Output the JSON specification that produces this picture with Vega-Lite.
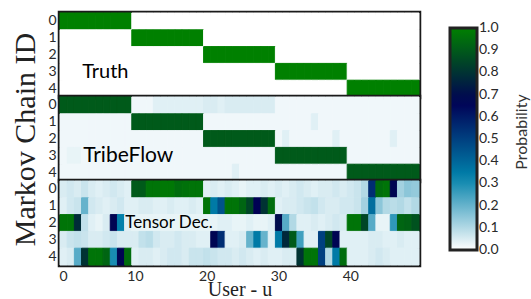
{
"$schema": "https://vega.github.io/schema/vega-lite/v6.json",
"background": "white",
"padding": {"left": 8, "top": 10, "right": 4, "bottom": 2},
"bounds": "flush",
"config": {
 "view": {"stroke": "#1a1a1a", "strokeWidth": 4.5},
 "concat": {"spacing": 0},
 "font": "Lato",
 "axis": {"labelFont": "Lato", "labelFontSize": 14, "labelColor": "#2a2a2a", "ticks": false, "domain": false, "grid": false, "titleFont": "Liberation Serif", "titleFontWeight": "normal", "titleColor": "#222"},
 "legend": {"orient": "right", "offset": 13, "padding": 15, "gradientLength": 222, "gradientThickness": 27, "gradientStrokeColor": "#222", "gradientStrokeWidth": 3, "labelFont": "Lato", "labelFontSize": 14, "labelColor": "#2a2a2a", "labelOffset": 3, "labelOverlap": false, "titleFont": "Lato", "titleFontSize": 16, "titleFontWeight": "normal", "titleColor": "#333", "titleOrient": "right", "titleAnchor": "middle", "titlePadding": 31}
},
"datasets": {
"truth": [
{"u":0,"c":0,"p":1},{"u":1,"c":0,"p":1},{"u":2,"c":0,"p":1},{"u":3,"c":0,"p":1},{"u":4,"c":0,"p":1},{"u":5,"c":0,"p":1},{"u":6,"c":0,"p":1},{"u":7,"c":0,"p":1},{"u":8,"c":0,"p":1},{"u":9,"c":0,"p":1},
{"u":10,"c":0,"p":0},{"u":11,"c":0,"p":0},{"u":12,"c":0,"p":0},{"u":13,"c":0,"p":0},{"u":14,"c":0,"p":0},{"u":15,"c":0,"p":0},{"u":16,"c":0,"p":0},{"u":17,"c":0,"p":0},{"u":18,"c":0,"p":0},{"u":19,"c":0,"p":0},
{"u":20,"c":0,"p":0},{"u":21,"c":0,"p":0},{"u":22,"c":0,"p":0},{"u":23,"c":0,"p":0},{"u":24,"c":0,"p":0},{"u":25,"c":0,"p":0},{"u":26,"c":0,"p":0},{"u":27,"c":0,"p":0},{"u":28,"c":0,"p":0},{"u":29,"c":0,"p":0},
{"u":30,"c":0,"p":0},{"u":31,"c":0,"p":0},{"u":32,"c":0,"p":0},{"u":33,"c":0,"p":0},{"u":34,"c":0,"p":0},{"u":35,"c":0,"p":0},{"u":36,"c":0,"p":0},{"u":37,"c":0,"p":0},{"u":38,"c":0,"p":0},{"u":39,"c":0,"p":0},
{"u":40,"c":0,"p":0},{"u":41,"c":0,"p":0},{"u":42,"c":0,"p":0},{"u":43,"c":0,"p":0},{"u":44,"c":0,"p":0},{"u":45,"c":0,"p":0},{"u":46,"c":0,"p":0},{"u":47,"c":0,"p":0},{"u":48,"c":0,"p":0},{"u":49,"c":0,"p":0},
{"u":0,"c":1,"p":0},{"u":1,"c":1,"p":0},{"u":2,"c":1,"p":0},{"u":3,"c":1,"p":0},{"u":4,"c":1,"p":0},{"u":5,"c":1,"p":0},{"u":6,"c":1,"p":0},{"u":7,"c":1,"p":0},{"u":8,"c":1,"p":0},{"u":9,"c":1,"p":0},
{"u":10,"c":1,"p":1},{"u":11,"c":1,"p":1},{"u":12,"c":1,"p":1},{"u":13,"c":1,"p":1},{"u":14,"c":1,"p":1},{"u":15,"c":1,"p":1},{"u":16,"c":1,"p":1},{"u":17,"c":1,"p":1},{"u":18,"c":1,"p":1},{"u":19,"c":1,"p":1},
{"u":20,"c":1,"p":0},{"u":21,"c":1,"p":0},{"u":22,"c":1,"p":0},{"u":23,"c":1,"p":0},{"u":24,"c":1,"p":0},{"u":25,"c":1,"p":0},{"u":26,"c":1,"p":0},{"u":27,"c":1,"p":0},{"u":28,"c":1,"p":0},{"u":29,"c":1,"p":0},
{"u":30,"c":1,"p":0},{"u":31,"c":1,"p":0},{"u":32,"c":1,"p":0},{"u":33,"c":1,"p":0},{"u":34,"c":1,"p":0},{"u":35,"c":1,"p":0},{"u":36,"c":1,"p":0},{"u":37,"c":1,"p":0},{"u":38,"c":1,"p":0},{"u":39,"c":1,"p":0},
{"u":40,"c":1,"p":0},{"u":41,"c":1,"p":0},{"u":42,"c":1,"p":0},{"u":43,"c":1,"p":0},{"u":44,"c":1,"p":0},{"u":45,"c":1,"p":0},{"u":46,"c":1,"p":0},{"u":47,"c":1,"p":0},{"u":48,"c":1,"p":0},{"u":49,"c":1,"p":0},
{"u":0,"c":2,"p":0},{"u":1,"c":2,"p":0},{"u":2,"c":2,"p":0},{"u":3,"c":2,"p":0},{"u":4,"c":2,"p":0},{"u":5,"c":2,"p":0},{"u":6,"c":2,"p":0},{"u":7,"c":2,"p":0},{"u":8,"c":2,"p":0},{"u":9,"c":2,"p":0},
{"u":10,"c":2,"p":0},{"u":11,"c":2,"p":0},{"u":12,"c":2,"p":0},{"u":13,"c":2,"p":0},{"u":14,"c":2,"p":0},{"u":15,"c":2,"p":0},{"u":16,"c":2,"p":0},{"u":17,"c":2,"p":0},{"u":18,"c":2,"p":0},{"u":19,"c":2,"p":0},
{"u":20,"c":2,"p":1},{"u":21,"c":2,"p":1},{"u":22,"c":2,"p":1},{"u":23,"c":2,"p":1},{"u":24,"c":2,"p":1},{"u":25,"c":2,"p":1},{"u":26,"c":2,"p":1},{"u":27,"c":2,"p":1},{"u":28,"c":2,"p":1},{"u":29,"c":2,"p":1},
{"u":30,"c":2,"p":0},{"u":31,"c":2,"p":0},{"u":32,"c":2,"p":0},{"u":33,"c":2,"p":0},{"u":34,"c":2,"p":0},{"u":35,"c":2,"p":0},{"u":36,"c":2,"p":0},{"u":37,"c":2,"p":0},{"u":38,"c":2,"p":0},{"u":39,"c":2,"p":0},
{"u":40,"c":2,"p":0},{"u":41,"c":2,"p":0},{"u":42,"c":2,"p":0},{"u":43,"c":2,"p":0},{"u":44,"c":2,"p":0},{"u":45,"c":2,"p":0},{"u":46,"c":2,"p":0},{"u":47,"c":2,"p":0},{"u":48,"c":2,"p":0},{"u":49,"c":2,"p":0},
{"u":0,"c":3,"p":0},{"u":1,"c":3,"p":0},{"u":2,"c":3,"p":0},{"u":3,"c":3,"p":0},{"u":4,"c":3,"p":0},{"u":5,"c":3,"p":0},{"u":6,"c":3,"p":0},{"u":7,"c":3,"p":0},{"u":8,"c":3,"p":0},{"u":9,"c":3,"p":0},
{"u":10,"c":3,"p":0},{"u":11,"c":3,"p":0},{"u":12,"c":3,"p":0},{"u":13,"c":3,"p":0},{"u":14,"c":3,"p":0},{"u":15,"c":3,"p":0},{"u":16,"c":3,"p":0},{"u":17,"c":3,"p":0},{"u":18,"c":3,"p":0},{"u":19,"c":3,"p":0},
{"u":20,"c":3,"p":0},{"u":21,"c":3,"p":0},{"u":22,"c":3,"p":0},{"u":23,"c":3,"p":0},{"u":24,"c":3,"p":0},{"u":25,"c":3,"p":0},{"u":26,"c":3,"p":0},{"u":27,"c":3,"p":0},{"u":28,"c":3,"p":0},{"u":29,"c":3,"p":0},
{"u":30,"c":3,"p":1},{"u":31,"c":3,"p":1},{"u":32,"c":3,"p":1},{"u":33,"c":3,"p":1},{"u":34,"c":3,"p":1},{"u":35,"c":3,"p":1},{"u":36,"c":3,"p":1},{"u":37,"c":3,"p":1},{"u":38,"c":3,"p":1},{"u":39,"c":3,"p":1},
{"u":40,"c":3,"p":0},{"u":41,"c":3,"p":0},{"u":42,"c":3,"p":0},{"u":43,"c":3,"p":0},{"u":44,"c":3,"p":0},{"u":45,"c":3,"p":0},{"u":46,"c":3,"p":0},{"u":47,"c":3,"p":0},{"u":48,"c":3,"p":0},{"u":49,"c":3,"p":0},
{"u":0,"c":4,"p":0},{"u":1,"c":4,"p":0},{"u":2,"c":4,"p":0},{"u":3,"c":4,"p":0},{"u":4,"c":4,"p":0},{"u":5,"c":4,"p":0},{"u":6,"c":4,"p":0},{"u":7,"c":4,"p":0},{"u":8,"c":4,"p":0},{"u":9,"c":4,"p":0},
{"u":10,"c":4,"p":0},{"u":11,"c":4,"p":0},{"u":12,"c":4,"p":0},{"u":13,"c":4,"p":0},{"u":14,"c":4,"p":0},{"u":15,"c":4,"p":0},{"u":16,"c":4,"p":0},{"u":17,"c":4,"p":0},{"u":18,"c":4,"p":0},{"u":19,"c":4,"p":0},
{"u":20,"c":4,"p":0},{"u":21,"c":4,"p":0},{"u":22,"c":4,"p":0},{"u":23,"c":4,"p":0},{"u":24,"c":4,"p":0},{"u":25,"c":4,"p":0},{"u":26,"c":4,"p":0},{"u":27,"c":4,"p":0},{"u":28,"c":4,"p":0},{"u":29,"c":4,"p":0},
{"u":30,"c":4,"p":0},{"u":31,"c":4,"p":0},{"u":32,"c":4,"p":0},{"u":33,"c":4,"p":0},{"u":34,"c":4,"p":0},{"u":35,"c":4,"p":0},{"u":36,"c":4,"p":0},{"u":37,"c":4,"p":0},{"u":38,"c":4,"p":0},{"u":39,"c":4,"p":0},
{"u":40,"c":4,"p":1},{"u":41,"c":4,"p":1},{"u":42,"c":4,"p":1},{"u":43,"c":4,"p":1},{"u":44,"c":4,"p":1},{"u":45,"c":4,"p":1},{"u":46,"c":4,"p":1},{"u":47,"c":4,"p":1},{"u":48,"c":4,"p":1},{"u":49,"c":4,"p":1}
],
"tribe": [
{"u":0,"c":0,"p":0.9},{"u":1,"c":0,"p":0.9},{"u":2,"c":0,"p":0.9},{"u":3,"c":0,"p":0.9},{"u":4,"c":0,"p":0.9},{"u":5,"c":0,"p":0.9},{"u":6,"c":0,"p":0.9},{"u":7,"c":0,"p":0.9},{"u":8,"c":0,"p":0.9},{"u":9,"c":0,"p":0.9},
{"u":10,"c":0,"p":0.02},{"u":11,"c":0,"p":0.02},{"u":12,"c":0,"p":0.02},{"u":13,"c":0,"p":0.04},{"u":14,"c":0,"p":0.04},{"u":15,"c":0,"p":0.04},{"u":16,"c":0,"p":0.04},{"u":17,"c":0,"p":0.04},{"u":18,"c":0,"p":0.04},{"u":19,"c":0,"p":0.04},
{"u":20,"c":0,"p":0.05},{"u":21,"c":0,"p":0.05},{"u":22,"c":0,"p":0.04},{"u":23,"c":0,"p":0.05},{"u":24,"c":0,"p":0.05},{"u":25,"c":0,"p":0.05},{"u":26,"c":0,"p":0.05},{"u":27,"c":0,"p":0.05},{"u":28,"c":0,"p":0.05},{"u":29,"c":0,"p":0.05},
{"u":30,"c":0,"p":0.02},{"u":31,"c":0,"p":0.02},{"u":32,"c":0,"p":0.02},{"u":33,"c":0,"p":0.02},{"u":34,"c":0,"p":0.02},{"u":35,"c":0,"p":0.02},{"u":36,"c":0,"p":0.02},{"u":37,"c":0,"p":0.02},{"u":38,"c":0,"p":0.02},{"u":39,"c":0,"p":0.02},
{"u":40,"c":0,"p":0.02},{"u":41,"c":0,"p":0.02},{"u":42,"c":0,"p":0.02},{"u":43,"c":0,"p":0.02},{"u":44,"c":0,"p":0.02},{"u":45,"c":0,"p":0.02},{"u":46,"c":0,"p":0.02},{"u":47,"c":0,"p":0.02},{"u":48,"c":0,"p":0.02},{"u":49,"c":0,"p":0.02},
{"u":0,"c":1,"p":0.02},{"u":1,"c":1,"p":0.02},{"u":2,"c":1,"p":0.02},{"u":3,"c":1,"p":0.02},{"u":4,"c":1,"p":0.02},{"u":5,"c":1,"p":0.02},{"u":6,"c":1,"p":0.02},{"u":7,"c":1,"p":0.02},{"u":8,"c":1,"p":0.02},{"u":9,"c":1,"p":0.02},
{"u":10,"c":1,"p":0.9},{"u":11,"c":1,"p":0.9},{"u":12,"c":1,"p":0.9},{"u":13,"c":1,"p":0.9},{"u":14,"c":1,"p":0.9},{"u":15,"c":1,"p":0.9},{"u":16,"c":1,"p":0.9},{"u":17,"c":1,"p":0.9},{"u":18,"c":1,"p":0.9},{"u":19,"c":1,"p":0.9},
{"u":20,"c":1,"p":0.02},{"u":21,"c":1,"p":0.02},{"u":22,"c":1,"p":0.02},{"u":23,"c":1,"p":0.02},{"u":24,"c":1,"p":0.02},{"u":25,"c":1,"p":0.02},{"u":26,"c":1,"p":0.02},{"u":27,"c":1,"p":0.02},{"u":28,"c":1,"p":0.02},{"u":29,"c":1,"p":0.02},
{"u":30,"c":1,"p":0.02},{"u":31,"c":1,"p":0.02},{"u":32,"c":1,"p":0.02},{"u":33,"c":1,"p":0.02},{"u":34,"c":1,"p":0.02},{"u":35,"c":1,"p":0.04},{"u":36,"c":1,"p":0.02},{"u":37,"c":1,"p":0.02},{"u":38,"c":1,"p":0.02},{"u":39,"c":1,"p":0.02},
{"u":40,"c":1,"p":0.02},{"u":41,"c":1,"p":0.02},{"u":42,"c":1,"p":0.02},{"u":43,"c":1,"p":0.02},{"u":44,"c":1,"p":0.02},{"u":45,"c":1,"p":0.02},{"u":46,"c":1,"p":0.02},{"u":47,"c":1,"p":0.02},{"u":48,"c":1,"p":0.02},{"u":49,"c":1,"p":0.02},
{"u":0,"c":2,"p":0.02},{"u":1,"c":2,"p":0.02},{"u":2,"c":2,"p":0.02},{"u":3,"c":2,"p":0.02},{"u":4,"c":2,"p":0.02},{"u":5,"c":2,"p":0.02},{"u":6,"c":2,"p":0.02},{"u":7,"c":2,"p":0.02},{"u":8,"c":2,"p":0.02},{"u":9,"c":2,"p":0.02},
{"u":10,"c":2,"p":0.02},{"u":11,"c":2,"p":0.02},{"u":12,"c":2,"p":0.02},{"u":13,"c":2,"p":0.02},{"u":14,"c":2,"p":0.02},{"u":15,"c":2,"p":0.02},{"u":16,"c":2,"p":0.02},{"u":17,"c":2,"p":0.02},{"u":18,"c":2,"p":0.02},{"u":19,"c":2,"p":0.02},
{"u":20,"c":2,"p":0.9},{"u":21,"c":2,"p":0.9},{"u":22,"c":2,"p":0.9},{"u":23,"c":2,"p":0.9},{"u":24,"c":2,"p":0.9},{"u":25,"c":2,"p":0.9},{"u":26,"c":2,"p":0.9},{"u":27,"c":2,"p":0.9},{"u":28,"c":2,"p":0.9},{"u":29,"c":2,"p":0.9},
{"u":30,"c":2,"p":0.02},{"u":31,"c":2,"p":0.04},{"u":32,"c":2,"p":0.02},{"u":33,"c":2,"p":0.02},{"u":34,"c":2,"p":0.02},{"u":35,"c":2,"p":0.02},{"u":36,"c":2,"p":0.02},{"u":37,"c":2,"p":0.02},{"u":38,"c":2,"p":0.04},{"u":39,"c":2,"p":0.02},
{"u":40,"c":2,"p":0.02},{"u":41,"c":2,"p":0.02},{"u":42,"c":2,"p":0.02},{"u":43,"c":2,"p":0.02},{"u":44,"c":2,"p":0.02},{"u":45,"c":2,"p":0.02},{"u":46,"c":2,"p":0.04},{"u":47,"c":2,"p":0.02},{"u":48,"c":2,"p":0.02},{"u":49,"c":2,"p":0.02},
{"u":0,"c":3,"p":0.02},{"u":1,"c":3,"p":0.03},{"u":2,"c":3,"p":0.03},{"u":3,"c":3,"p":0.02},{"u":4,"c":3,"p":0.02},{"u":5,"c":3,"p":0.02},{"u":6,"c":3,"p":0.02},{"u":7,"c":3,"p":0.02},{"u":8,"c":3,"p":0.02},{"u":9,"c":3,"p":0.02},
{"u":10,"c":3,"p":0.02},{"u":11,"c":3,"p":0.02},{"u":12,"c":3,"p":0.02},{"u":13,"c":3,"p":0.02},{"u":14,"c":3,"p":0.02},{"u":15,"c":3,"p":0.02},{"u":16,"c":3,"p":0.02},{"u":17,"c":3,"p":0.02},{"u":18,"c":3,"p":0.02},{"u":19,"c":3,"p":0.02},
{"u":20,"c":3,"p":0.02},{"u":21,"c":3,"p":0.02},{"u":22,"c":3,"p":0.02},{"u":23,"c":3,"p":0.02},{"u":24,"c":3,"p":0.02},{"u":25,"c":3,"p":0.02},{"u":26,"c":3,"p":0.02},{"u":27,"c":3,"p":0.02},{"u":28,"c":3,"p":0.02},{"u":29,"c":3,"p":0.02},
{"u":30,"c":3,"p":0.9},{"u":31,"c":3,"p":0.9},{"u":32,"c":3,"p":0.9},{"u":33,"c":3,"p":0.9},{"u":34,"c":3,"p":0.9},{"u":35,"c":3,"p":0.9},{"u":36,"c":3,"p":0.9},{"u":37,"c":3,"p":0.9},{"u":38,"c":3,"p":0.9},{"u":39,"c":3,"p":0.9},
{"u":40,"c":3,"p":0.02},{"u":41,"c":3,"p":0.02},{"u":42,"c":3,"p":0.02},{"u":43,"c":3,"p":0.02},{"u":44,"c":3,"p":0.02},{"u":45,"c":3,"p":0.02},{"u":46,"c":3,"p":0.02},{"u":47,"c":3,"p":0.02},{"u":48,"c":3,"p":0.02},{"u":49,"c":3,"p":0.02},
{"u":0,"c":4,"p":0.02},{"u":1,"c":4,"p":0.02},{"u":2,"c":4,"p":0.02},{"u":3,"c":4,"p":0.02},{"u":4,"c":4,"p":0.02},{"u":5,"c":4,"p":0.02},{"u":6,"c":4,"p":0.02},{"u":7,"c":4,"p":0.02},{"u":8,"c":4,"p":0.02},{"u":9,"c":4,"p":0.02},
{"u":10,"c":4,"p":0.02},{"u":11,"c":4,"p":0.02},{"u":12,"c":4,"p":0.02},{"u":13,"c":4,"p":0.02},{"u":14,"c":4,"p":0.02},{"u":15,"c":4,"p":0.02},{"u":16,"c":4,"p":0.02},{"u":17,"c":4,"p":0.02},{"u":18,"c":4,"p":0.02},{"u":19,"c":4,"p":0.02},
{"u":20,"c":4,"p":0.02},{"u":21,"c":4,"p":0.02},{"u":22,"c":4,"p":0.02},{"u":23,"c":4,"p":0.02},{"u":24,"c":4,"p":0.04},{"u":25,"c":4,"p":0.02},{"u":26,"c":4,"p":0.02},{"u":27,"c":4,"p":0.02},{"u":28,"c":4,"p":0.02},{"u":29,"c":4,"p":0.02},
{"u":30,"c":4,"p":0.02},{"u":31,"c":4,"p":0.02},{"u":32,"c":4,"p":0.02},{"u":33,"c":4,"p":0.02},{"u":34,"c":4,"p":0.02},{"u":35,"c":4,"p":0.02},{"u":36,"c":4,"p":0.02},{"u":37,"c":4,"p":0.02},{"u":38,"c":4,"p":0.02},{"u":39,"c":4,"p":0.02},
{"u":40,"c":4,"p":0.9},{"u":41,"c":4,"p":0.9},{"u":42,"c":4,"p":0.9},{"u":43,"c":4,"p":0.9},{"u":44,"c":4,"p":0.9},{"u":45,"c":4,"p":0.9},{"u":46,"c":4,"p":0.9},{"u":47,"c":4,"p":0.9},{"u":48,"c":4,"p":0.9},{"u":49,"c":4,"p":0.9}
],
"tensor": [
{"u":0,"c":0,"p":0.05},{"u":1,"c":0,"p":0.06},{"u":2,"c":0,"p":0.05},{"u":3,"c":0,"p":0.07},{"u":4,"c":0,"p":0.05},{"u":5,"c":0,"p":0.04},{"u":6,"c":0,"p":0.05},{"u":7,"c":0,"p":0.06},{"u":8,"c":0,"p":0.05},{"u":9,"c":0,"p":0.04},
{"u":10,"c":0,"p":0.9},{"u":11,"c":0,"p":0.9},{"u":12,"c":0,"p":0.97},{"u":13,"c":0,"p":0.97},{"u":14,"c":0,"p":0.98},{"u":15,"c":0,"p":0.98},{"u":16,"c":0,"p":0.95},{"u":17,"c":0,"p":0.96},{"u":18,"c":0,"p":0.97},{"u":19,"c":0,"p":0.97},
{"u":20,"c":0,"p":0.04},{"u":21,"c":0,"p":0.05},{"u":22,"c":0,"p":0.04},{"u":23,"c":0,"p":0.05},{"u":24,"c":0,"p":0.04},{"u":25,"c":0,"p":0.03},{"u":26,"c":0,"p":0.04},{"u":27,"c":0,"p":0.04},{"u":28,"c":0,"p":0.05},{"u":29,"c":0,"p":0.04},
{"u":30,"c":0,"p":0.05},{"u":31,"c":0,"p":0.04},{"u":32,"c":0,"p":0.05},{"u":33,"c":0,"p":0.06},{"u":34,"c":0,"p":0.05},{"u":35,"c":0,"p":0.04},{"u":36,"c":0,"p":0.05},{"u":37,"c":0,"p":0.05},{"u":38,"c":0,"p":0.06},{"u":39,"c":0,"p":0.05},
{"u":40,"c":0,"p":0.06},{"u":41,"c":0,"p":0.07},{"u":42,"c":0,"p":0.1},{"u":43,"c":0,"p":0.55},{"u":44,"c":0,"p":0.95},{"u":45,"c":0,"p":0.97},{"u":46,"c":0,"p":0.68},{"u":47,"c":0,"p":0.12},{"u":48,"c":0,"p":0.15},{"u":49,"c":0,"p":0.14},
{"u":0,"c":1,"p":0.04},{"u":1,"c":1,"p":0.06},{"u":2,"c":1,"p":0.07},{"u":3,"c":1,"p":0.2},{"u":4,"c":1,"p":0.06},{"u":5,"c":1,"p":0.05},{"u":6,"c":1,"p":0.04},{"u":7,"c":1,"p":0.05},{"u":8,"c":1,"p":0.06},{"u":9,"c":1,"p":0.04},
{"u":10,"c":1,"p":0.04},{"u":11,"c":1,"p":0.05},{"u":12,"c":1,"p":0.05},{"u":13,"c":1,"p":0.04},{"u":14,"c":1,"p":0.04},{"u":15,"c":1,"p":0.05},{"u":16,"c":1,"p":0.04},{"u":17,"c":1,"p":0.04},{"u":18,"c":1,"p":0.05},{"u":19,"c":1,"p":0.04},
{"u":20,"c":1,"p":0.97},{"u":21,"c":1,"p":0.35},{"u":22,"c":1,"p":0.45},{"u":23,"c":1,"p":0.97},{"u":24,"c":1,"p":0.97},{"u":25,"c":1,"p":0.93},{"u":26,"c":1,"p":0.85},{"u":27,"c":1,"p":0.67},{"u":28,"c":1,"p":0.8},{"u":29,"c":1,"p":0.95},
{"u":30,"c":1,"p":0.04},{"u":31,"c":1,"p":0.05},{"u":32,"c":1,"p":0.05},{"u":33,"c":1,"p":0.06},{"u":34,"c":1,"p":0.07},{"u":35,"c":1,"p":0.08},{"u":36,"c":1,"p":0.06},{"u":37,"c":1,"p":0.05},{"u":38,"c":1,"p":0.05},{"u":39,"c":1,"p":0.06},
{"u":40,"c":1,"p":0.06},{"u":41,"c":1,"p":0.07},{"u":42,"c":1,"p":0.12},{"u":43,"c":1,"p":0.38},{"u":44,"c":1,"p":0.15},{"u":45,"c":1,"p":0.1},{"u":46,"c":1,"p":0.09},{"u":47,"c":1,"p":0.1},{"u":48,"c":1,"p":0.08},{"u":49,"c":1,"p":0.1},
{"u":0,"c":2,"p":0.97},{"u":1,"c":2,"p":0.97},{"u":2,"c":2,"p":0.78},{"u":3,"c":2,"p":0.08},{"u":4,"c":2,"p":0.04},{"u":5,"c":2,"p":0.03},{"u":6,"c":2,"p":0.05},{"u":7,"c":2,"p":0.68},{"u":8,"c":2,"p":0.33},{"u":9,"c":2,"p":0.04},
{"u":10,"c":2,"p":0.03},{"u":11,"c":2,"p":0.03},{"u":12,"c":2,"p":0.03},{"u":13,"c":2,"p":0.03},{"u":14,"c":2,"p":0.03},{"u":15,"c":2,"p":0.03},{"u":16,"c":2,"p":0.03},{"u":17,"c":2,"p":0.03},{"u":18,"c":2,"p":0.03},{"u":19,"c":2,"p":0.03},
{"u":20,"c":2,"p":0.03},{"u":21,"c":2,"p":0.03},{"u":22,"c":2,"p":0.04},{"u":23,"c":2,"p":0.04},{"u":24,"c":2,"p":0.03},{"u":25,"c":2,"p":0.03},{"u":26,"c":2,"p":0.04},{"u":27,"c":2,"p":0.03},{"u":28,"c":2,"p":0.03},{"u":29,"c":2,"p":0.04},
{"u":30,"c":2,"p":0.7},{"u":31,"c":2,"p":0.22},{"u":32,"c":2,"p":0.1},{"u":33,"c":2,"p":0.04},{"u":34,"c":2,"p":0.04},{"u":35,"c":2,"p":0.05},{"u":36,"c":2,"p":0.04},{"u":37,"c":2,"p":0.05},{"u":38,"c":2,"p":0.06},{"u":39,"c":2,"p":0.05},
{"u":40,"c":2,"p":0.97},{"u":41,"c":2,"p":0.97},{"u":42,"c":2,"p":0.85},{"u":43,"c":2,"p":0.22},{"u":44,"c":2,"p":0.03},{"u":45,"c":2,"p":0.03},{"u":46,"c":2,"p":0.27},{"u":47,"c":2,"p":0.93},{"u":48,"c":2,"p":0.92},{"u":49,"c":2,"p":0.88},
{"u":0,"c":3,"p":0.05},{"u":1,"c":3,"p":0.07},{"u":2,"c":3,"p":0.08},{"u":3,"c":3,"p":0.07},{"u":4,"c":3,"p":0.05},{"u":5,"c":3,"p":0.05},{"u":6,"c":3,"p":0.06},{"u":7,"c":3,"p":0.07},{"u":8,"c":3,"p":0.05},{"u":9,"c":3,"p":0.05},
{"u":10,"c":3,"p":0.05},{"u":11,"c":3,"p":0.08},{"u":12,"c":3,"p":0.09},{"u":13,"c":3,"p":0.06},{"u":14,"c":3,"p":0.05},{"u":15,"c":3,"p":0.05},{"u":16,"c":3,"p":0.06},{"u":17,"c":3,"p":0.05},{"u":18,"c":3,"p":0.05},{"u":19,"c":3,"p":0.04},
{"u":20,"c":3,"p":0.04},{"u":21,"c":3,"p":0.68},{"u":22,"c":3,"p":0.55},{"u":23,"c":3,"p":0.04},{"u":24,"c":3,"p":0.04},{"u":25,"c":3,"p":0.05},{"u":26,"c":3,"p":0.2},{"u":27,"c":3,"p":0.35},{"u":28,"c":3,"p":0.2},{"u":29,"c":3,"p":0.04},
{"u":30,"c":3,"p":0.35},{"u":31,"c":3,"p":0.77},{"u":32,"c":3,"p":0.9},{"u":33,"c":3,"p":0.25},{"u":34,"c":3,"p":0.04},{"u":35,"c":3,"p":0.04},{"u":36,"c":3,"p":0.5},{"u":37,"c":3,"p":0.85},{"u":38,"c":3,"p":0.68},{"u":39,"c":3,"p":0.04},
{"u":40,"c":3,"p":0.04},{"u":41,"c":3,"p":0.04},{"u":42,"c":3,"p":0.04},{"u":43,"c":3,"p":0.05},{"u":44,"c":3,"p":0.05},{"u":45,"c":3,"p":0.04},{"u":46,"c":3,"p":0.04},{"u":47,"c":3,"p":0.05},{"u":48,"c":3,"p":0.04},{"u":49,"c":3,"p":0.04},
{"u":0,"c":4,"p":0.04},{"u":1,"c":4,"p":0.05},{"u":2,"c":4,"p":0.22},{"u":3,"c":4,"p":0.8},{"u":4,"c":4,"p":0.97},{"u":5,"c":4,"p":0.97},{"u":6,"c":4,"p":0.93},{"u":7,"c":4,"p":0.3},{"u":8,"c":4,"p":0.68},{"u":9,"c":4,"p":0.95},
{"u":10,"c":4,"p":0.04},{"u":11,"c":4,"p":0.05},{"u":12,"c":4,"p":0.05},{"u":13,"c":4,"p":0.04},{"u":14,"c":4,"p":0.05},{"u":15,"c":4,"p":0.06},{"u":16,"c":4,"p":0.06},{"u":17,"c":4,"p":0.05},{"u":18,"c":4,"p":0.07},{"u":19,"c":4,"p":0.07},
{"u":20,"c":4,"p":0.08},{"u":21,"c":4,"p":0.07},{"u":22,"c":4,"p":0.06},{"u":23,"c":4,"p":0.06},{"u":24,"c":4,"p":0.05},{"u":25,"c":4,"p":0.06},{"u":26,"c":4,"p":0.05},{"u":27,"c":4,"p":0.04},{"u":28,"c":4,"p":0.05},{"u":29,"c":4,"p":0.04},
{"u":30,"c":4,"p":0.04},{"u":31,"c":4,"p":0.05},{"u":32,"c":4,"p":0.05},{"u":33,"c":4,"p":0.8},{"u":34,"c":4,"p":0.97},{"u":35,"c":4,"p":0.97},{"u":36,"c":4,"p":0.5},{"u":37,"c":4,"p":0.1},{"u":38,"c":4,"p":0.35},{"u":39,"c":4,"p":0.95},
{"u":40,"c":4,"p":0.04},{"u":41,"c":4,"p":0.04},{"u":42,"c":4,"p":0.04},{"u":43,"c":4,"p":0.05},{"u":44,"c":4,"p":0.06},{"u":45,"c":4,"p":0.05},{"u":46,"c":4,"p":0.04},{"u":47,"c":4,"p":0.04},{"u":48,"c":4,"p":0.04},{"u":49,"c":4,"p":0.04}
]
},
"vconcat": [
{
 "width": 359, "height": 84,
 "layer": [
  {"data": {"name": "truth"}, "mark": {"type": "rect", "strokeWidth": 1, "stroke": {"expr": "scale('color', datum.p)"}},
   "encoding": {
    "x": {"field": "u", "type": "ordinal", "scale": {"paddingInner": 0, "paddingOuter": 0}, "axis": null},
    "y": {"field": "c", "type": "ordinal", "scale": {"paddingInner": 0, "paddingOuter": 0}, "axis": {"title": null, "labelPadding": 4}},
    "color": {"field": "p", "type": "quantitative", "scale": {"domain": [0, 0.33333, 0.66667, 1], "range": ["#ffffff", "#0080aa", "#000055", "#008000"], "interpolate": "rgb"},
      "legend": {"title": "Probability", "values": [0,0.1,0.2,0.3,0.4,0.5,0.6,0.7,0.8,0.9,1], "format": ".1f", "encode": {"title": {"update": {"angle": {"value": 270}}}, "labels": {"update": {"baseline": {"value": "middle"}}}}}}
   }},
  {"data": {"values": [{"label": "Truth"}]}, "mark": {"type": "text", "align": "left", "baseline": "middle", "fontSize": 20, "font": "Lato", "color": "#000", "dx": -3},
   "encoding": {"x": {"datum": 3, "type": "ordinal"}, "y": {"datum": 3, "type": "ordinal"}, "text": {"field": "label"}}}
 ]
},
{
 "width": 359, "height": 84,
 "layer": [
  {"data": {"name": "tribe"}, "mark": {"type": "rect", "strokeWidth": 1, "stroke": {"expr": "scale('color', datum.p)"}},
   "encoding": {
    "x": {"field": "u", "type": "ordinal", "scale": {"paddingInner": 0, "paddingOuter": 0}, "axis": null},
    "y": {"field": "c", "type": "ordinal", "scale": {"paddingInner": 0, "paddingOuter": 0}, "axis": {"title": "Markov Chain ID", "titleFontSize": 30, "titlePadding": 7, "labelPadding": 4}},
    "color": {"field": "p", "type": "quantitative"}
   }},
  {"data": {"values": [{"label": "TribeFlow"}]}, "mark": {"type": "text", "align": "left", "baseline": "middle", "fontSize": 21, "font": "Lato", "color": "#000", "dx": -2},
   "encoding": {"x": {"datum": 3, "type": "ordinal"}, "y": {"datum": 3, "type": "ordinal"}, "text": {"field": "label"}}}
 ]
},
{
 "width": 359, "height": 84,
 "layer": [
  {"data": {"name": "tensor"}, "mark": {"type": "rect", "strokeWidth": 1, "stroke": {"expr": "scale('color', datum.p)"}},
   "encoding": {
    "x": {"field": "u", "type": "ordinal", "scale": {"paddingInner": 0, "paddingOuter": 0}, "axis": {"values": [0,10,20,30,40], "labelAngle": 0, "title": "User - u", "titleFontSize": 20, "labelPadding": 4, "titlePadding": -4}},
    "y": {"field": "c", "type": "ordinal", "scale": {"paddingInner": 0, "paddingOuter": 0}, "axis": {"title": null, "labelPadding": 4}},
    "color": {"field": "p", "type": "quantitative"}
   }},
  {"data": {"values": [{"label": "Tensor Dec."}]}, "mark": {"type": "text", "align": "left", "baseline": "middle", "fontSize": 17, "font": "Lato", "color": "#000", "dx": -3},
   "encoding": {"x": {"datum": 9, "type": "ordinal"}, "y": {"datum": 2, "type": "ordinal"}, "text": {"field": "label"}}}
 ]
}
],
"resolve": {"scale": {"color": "shared"}}
}
